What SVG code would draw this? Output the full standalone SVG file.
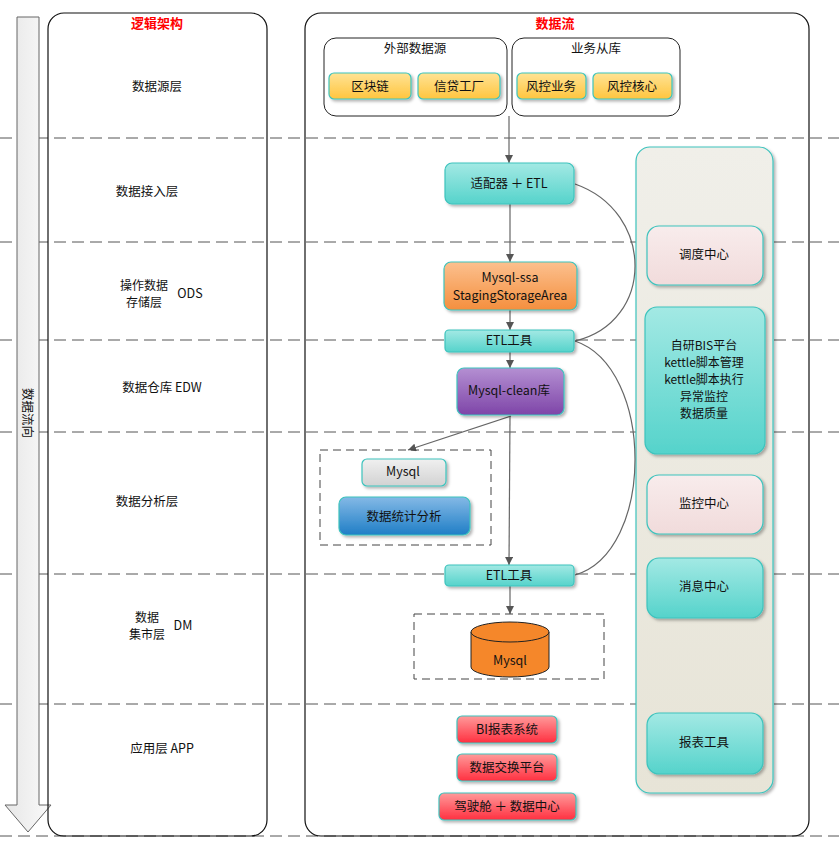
<svg xmlns="http://www.w3.org/2000/svg" width="839" height="848" viewBox="0 0 839 848">
<defs>
<linearGradient id="gTeal" x1="0" y1="0" x2="0" y2="1"><stop offset="0" stop-color="#a3e9e4"/><stop offset="1" stop-color="#55d3cb"/></linearGradient>
<linearGradient id="gYellow" x1="0" y1="0" x2="0" y2="1"><stop offset="0" stop-color="#ffe394"/><stop offset="1" stop-color="#ffc53f"/></linearGradient>
<linearGradient id="gOrange" x1="0" y1="0" x2="0" y2="1"><stop offset="0" stop-color="#fcc08e"/><stop offset="1" stop-color="#f48f3e"/></linearGradient>
<linearGradient id="gPurple" x1="0" y1="0" x2="0" y2="1"><stop offset="0" stop-color="#b48fd2"/><stop offset="1" stop-color="#7e45a8"/></linearGradient>
<linearGradient id="gGray" x1="0" y1="0" x2="0" y2="1"><stop offset="0" stop-color="#f0f0f0"/><stop offset="1" stop-color="#d2d2d2"/></linearGradient>
<linearGradient id="gBlue" x1="0" y1="0" x2="0" y2="1"><stop offset="0" stop-color="#84b9e6"/><stop offset="1" stop-color="#1f7ec6"/></linearGradient>
<linearGradient id="gRed" x1="0" y1="0" x2="0" y2="1"><stop offset="0" stop-color="#ff9a9a"/><stop offset="1" stop-color="#ff3040"/></linearGradient>
<linearGradient id="gPink" x1="0" y1="0" x2="0" y2="1"><stop offset="0" stop-color="#f8ecec"/><stop offset="1" stop-color="#f1dbdb"/></linearGradient>
<linearGradient id="gSide" x1="0" y1="0" x2="0" y2="1"><stop offset="0" stop-color="#f0efe9"/><stop offset="1" stop-color="#e7e4d7"/></linearGradient>
<linearGradient id="gArrow" x1="0" y1="0" x2="1" y2="0"><stop offset="0" stop-color="#e6e6e6"/><stop offset="1" stop-color="#fafafa"/></linearGradient>
<filter id="sh" x="-10%" y="-10%" width="130%" height="140%"><feDropShadow dx="2" dy="2" stdDeviation="1.5" flood-color="#000" flood-opacity="0.3"/></filter>
<marker id="ah" viewBox="0 0 10 10" refX="10" refY="5" markerWidth="8" markerHeight="8" markerUnits="userSpaceOnUse" orient="auto"><path d="M0,0 L10,5 L0,10 z" fill="#555"/></marker>
</defs>
<style>
text{font-family:"Noto Sans CJK SC","Liberation Sans",sans-serif;font-size:12.5px;fill:#111;text-anchor:middle;dominant-baseline:central}
.title{fill:#ff0000;font-weight:bold;font-size:13px}
.sm{font-size:12px}
.panel{fill:none;stroke:#111;stroke-width:1.2}
.grp{fill:#fff;stroke:#222;stroke-width:1}
.dash{stroke:#555;stroke-width:1;stroke-dasharray:12 6;fill:none}
.dbox{fill:none;stroke:#444;stroke-width:1;stroke-dasharray:8 5}
.n{stroke:#3cc3bd;stroke-width:1.2;filter:url(#sh)}
.conn{stroke:#666;stroke-width:1.2;fill:none}
</style>

<!-- dashed layer lines -->
<g id="layer-lines">
<line class="dash" x1="0" y1="138" x2="839" y2="138"/>
<line class="dash" x1="0" y1="242" x2="839" y2="242"/>
<line class="dash" x1="0" y1="340" x2="839" y2="340"/>
<line class="dash" x1="0" y1="432" x2="839" y2="432"/>
<line class="dash" x1="0" y1="574" x2="839" y2="574"/>
<line class="dash" x1="0" y1="704" x2="839" y2="704"/>
<line class="dash" x1="0" y1="836" x2="839" y2="836"/>
</g>

<!-- flow direction arrow -->
<g id="flow-arrow">
<path d="M17,17 L39,17 L39,805 L51,805 L28,832 L5,805 L17,805 Z" fill="url(#gArrow)" stroke="#666" stroke-width="1"/>
<text x="28" y="413" transform="rotate(90 28 413)" style="font-size:12.5px">数据流向</text>
</g>

<!-- left panel -->
<g id="logic-panel">
<rect class="panel" x="48" y="13" width="219" height="823" rx="16"/>
<text class="title" x="157" y="22">逻辑架构</text>
<text x="157" y="85">数据源层</text>
<text x="147" y="190">数据接入层</text>
<text class="sm" x="144" y="284">操作数据</text>
<text class="sm" x="144" y="301">存储层</text>
<text x="190" y="292">ODS</text>
<text x="162" y="386">数据仓库 EDW</text>
<text x="147" y="500">数据分析层</text>
<text class="sm" x="147" y="616">数据</text>
<text class="sm" x="147" y="633">集市层</text>
<text x="183" y="624">DM</text>
<text x="162" y="747">应用层 APP</text>
</g>

<!-- right panel -->
<g id="flow-panel">
<rect class="panel" x="305" y="13" width="504" height="823" rx="16"/>
<text class="title" x="555" y="22">数据流</text>
</g>

<!-- side panel -->
<g id="side-panel">
<rect x="636" y="147" width="137" height="646" rx="14" fill="url(#gSide)" stroke="#3cc3bd" stroke-width="1.2" filter="url(#sh)"/>
</g>

<!-- source groups -->
<g id="ext-source">
<rect class="grp" x="324" y="38" width="183" height="78" rx="12"/>
<text x="415" y="47">外部数据源</text>
</g>
<g id="biz-slave">
<rect class="grp" x="512" y="38" width="168" height="78" rx="12"/>
<text x="596" y="47">业务从库</text>
</g>
<g id="blockchain"><rect class="n" x="329" y="73" width="82" height="26" rx="5" fill="url(#gYellow)"/><text x="370" y="85">区块链</text></g>
<g id="credit-factory"><rect class="n" x="418" y="73" width="82" height="26" rx="5" fill="url(#gYellow)"/><text x="459" y="85">信贷工厂</text></g>
<g id="risk-biz"><rect class="n" x="517" y="73" width="69" height="26" rx="5" fill="url(#gYellow)"/><text x="551" y="85">风控业务</text></g>
<g id="risk-core"><rect class="n" x="593" y="73" width="79" height="26" rx="5" fill="url(#gYellow)"/><text x="632" y="85">风控核心</text></g>

<!-- connectors -->
<g id="connectors">
<line class="conn" x1="509" y1="116" x2="509" y2="163" marker-end="url(#ah)"/>
<line class="conn" x1="510" y1="204" x2="510" y2="262" marker-end="url(#ah)"/>
<line class="conn" x1="510" y1="310" x2="510" y2="330" marker-end="url(#ah)"/>
<line class="conn" x1="510" y1="352" x2="510" y2="368" marker-end="url(#ah)"/>
<line class="conn" x1="511" y1="416" x2="408" y2="450" marker-end="url(#ah)"/>
<line class="conn" x1="510" y1="416" x2="509" y2="565" marker-end="url(#ah)"/>
<line class="conn" x1="510" y1="586" x2="510" y2="614" marker-end="url(#ah)"/>
<path class="conn" d="M575,184 C655,212 655,322 575,341"/>
<path class="conn" d="M575,341 C655,368 655,552 575,575"/>
</g>

<g id="adapter-etl"><rect class="n" x="445" y="163" width="129" height="41" rx="7" fill="url(#gTeal)"/><text x="509" y="182">适配器 ＋ ETL</text></g>
<g id="mysql-ssa"><rect class="n" x="444" y="262" width="133" height="48" rx="7" fill="url(#gOrange)"/><text x="510" y="276">Mysql-ssa</text><text x="510" y="294">StagingStorageArea</text></g>
<g id="etl-tool-1"><rect class="n" x="445" y="330" width="129" height="22" rx="4" fill="url(#gTeal)"/><text x="509" y="339">ETL工具</text></g>
<g id="mysql-clean"><rect class="n" x="457" y="368" width="107" height="47" rx="7" fill="url(#gPurple)"/><text x="509" y="389">Mysql-clean库</text></g>

<g id="analysis-group">
<rect class="dbox" x="320" y="450" width="171" height="95"/>
</g>
<g id="mysql-analysis"><rect class="n" x="362" y="459" width="84" height="27" rx="5" fill="url(#gGray)"/><text x="403" y="470">Mysql</text></g>
<g id="stat-analysis"><rect class="n" x="339" y="497" width="131" height="38" rx="7" fill="url(#gBlue)"/><text x="404" y="515">数据统计分析</text></g>

<g id="etl-tool-2"><rect class="n" x="445" y="565" width="129" height="21" rx="4" fill="url(#gTeal)"/><text x="509" y="574">ETL工具</text></g>

<g id="dm-group"><rect class="dbox" x="414" y="614" width="190" height="65"/></g>
<g id="mysql-dm">
<path d="M471,632 L471,667 A39,10 0 0 0 549,667 L549,632" fill="#f5872a" stroke="#222" stroke-width="1"/>
<ellipse cx="510" cy="632" rx="39" ry="10" fill="#f5872a" stroke="#222" stroke-width="1"/>
<text x="510" y="659">Mysql</text>
</g>

<g id="bi-report"><rect class="n" x="457" y="716" width="100" height="27" rx="5" fill="url(#gRed)"/><text x="507" y="728">BI报表系统</text></g>
<g id="data-exchange"><rect class="n" x="457" y="754" width="100" height="27" rx="5" fill="url(#gRed)"/><text x="507" y="766">数据交换平台</text></g>
<g id="cockpit"><rect class="n" x="439" y="793" width="137" height="27" rx="5" fill="url(#gRed)"/><text x="507" y="805">驾驶舱 ＋ 数据中心</text></g>

<g id="scheduler"><rect class="n" x="647" y="226" width="116" height="59" rx="12" fill="url(#gPink)"/><text x="704" y="253">调度中心</text></g>
<g id="bis-platform"><rect class="n" x="645" y="307" width="120" height="147" rx="12" fill="url(#gTeal)"/>
<text class="sm" x="704" y="344">自研BIS平台</text>
<text class="sm" x="704" y="361">kettle脚本管理</text>
<text class="sm" x="704" y="378">kettle脚本执行</text>
<text class="sm" x="704" y="395">异常监控</text>
<text class="sm" x="704" y="412">数据质量</text>
</g>
<g id="monitor"><rect class="n" x="647" y="475" width="116" height="59" rx="12" fill="url(#gPink)"/><text x="704" y="502">监控中心</text></g>
<g id="message"><rect class="n" x="647" y="558" width="116" height="60" rx="12" fill="url(#gTeal)"/><text x="704" y="585">消息中心</text></g>
<g id="report-tool"><rect class="n" x="647" y="713" width="116" height="61" rx="12" fill="url(#gTeal)"/><text x="704" y="741">报表工具</text></g>
</svg>
